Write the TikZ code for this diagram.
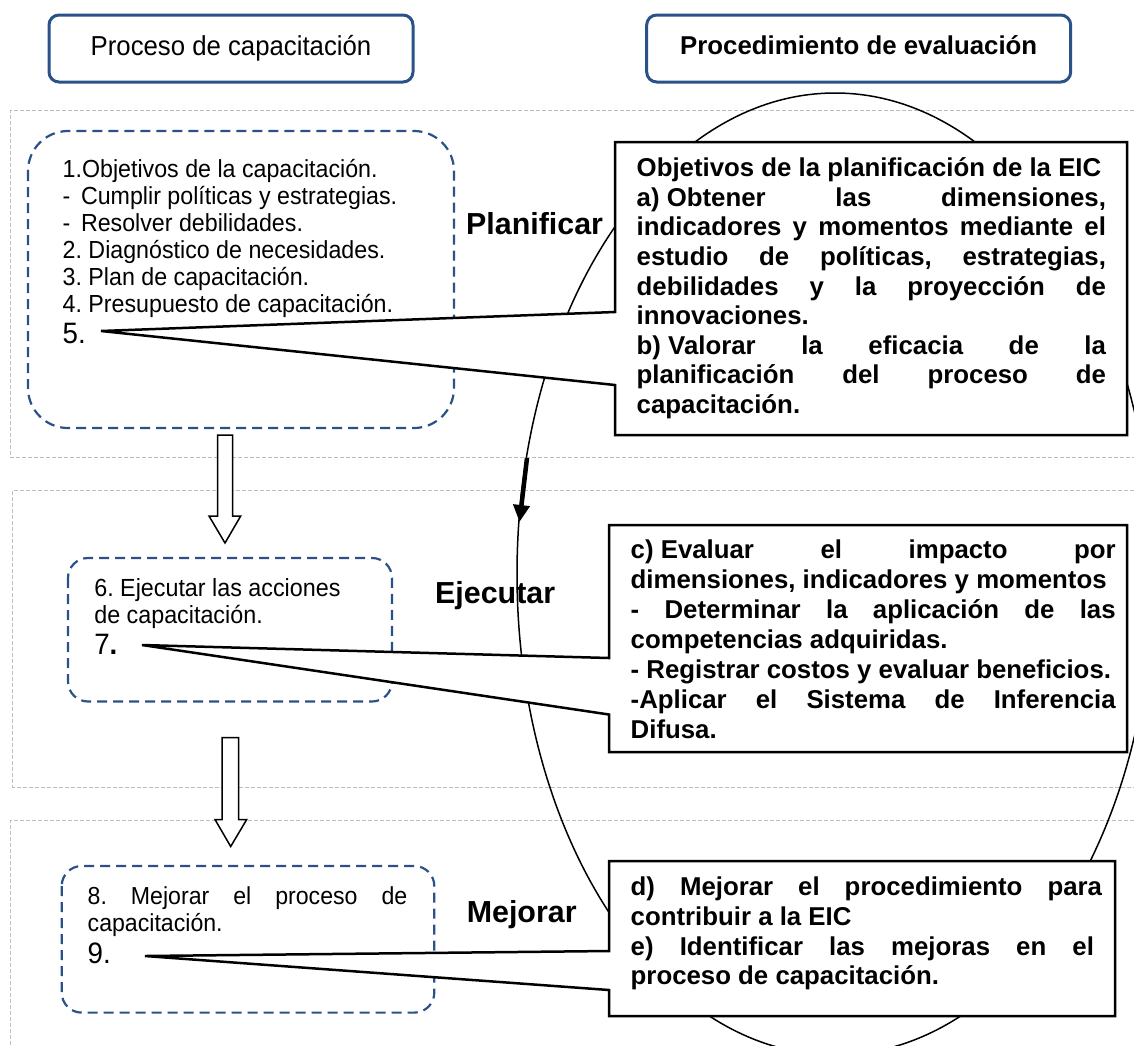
\documentclass[tikz,border=0pt]{standalone}
\usepackage{fontspec}
\setmainfont{Liberation Sans}
\newfontfamily\regfont[FakeStretch=0.94]{Liberation Sans}
\usetikzlibrary{arrows.meta}
\definecolor{hdrblue}{RGB}{42,82,136}
\definecolor{dashblue}{RGB}{42,82,136}
\definecolor{secgray}{RGB}{190,190,190}
\newcommand{\jline}[1]{\makebox[\linewidth][s]{#1}}
\newcommand{\fixsp}{\hspace{0.278em}}
\frenchspacing
\begin{document}
\begin{tikzpicture}[x=1pt,y=-1pt,
  section/.style={draw=secgray, line width=1pt, dash pattern=on 4pt off 2pt},
  hdrbox/.style={draw=hdrblue, line width=3pt, rounded corners=10pt},
  leftbox/.style={draw=dashblue, line width=2.2pt, dash pattern=on 10pt off 6pt},
  callout/.style={draw=black, fill=white, line width=2.5pt},
  hollow/.style={draw=black, fill=white, line width=1.5pt},
  txt/.style={anchor=base west, inner sep=0pt, outer sep=0pt},
  lbl/.style={anchor=base west, inner sep=0pt, font=\fontsize{30.4}{36}\selectfont\bfseries},
]
\useasboundingbox (0,0) rectangle (1134,1045);

% sections
\draw[section] (1140,110) -- (10.7,110) -- (10.7,457) -- (1140,457);
\draw[section] (1140,490.5) -- (12.7,490.5) -- (12.7,787) -- (1140,787);
\draw[section] (1140,820.5) -- (10.7,820.5) -- (10.7,1050);

% headers
\draw[hdrbox] (49,15) rectangle (413,82);
\node[txt, anchor=base] (h1) at (231,55) {\regfont\fontsize{27.4}{30}\selectfont Proceso de capacitación};
\draw[hdrbox] (646.7,15) rectangle (1070.7,82);
\node[txt, anchor=base] (h2) at (858.7,54.5) {\fontsize{25.8}{30}\selectfont\bfseries Procedimiento de evaluación};

% left dashed boxes
\draw[leftbox, rounded corners=40pt] (28,131) rectangle (454,428);
\draw[leftbox, rounded corners=20pt] (68,558) rectangle (392,701.5);
\draw[leftbox, rounded corners=20pt] (61.7,866) rectangle (434.3,1012.6);

% hollow arrows
\draw[hollow] (217.5,435) -- (217.5,516) -- (209,516) -- (225,543) -- (240.7,516) -- (232.7,516) -- (232.7,435) -- cycle;
\draw[hollow] (222,737.7) -- (222,819.5) -- (215,819.5) -- (230.7,846.5) -- (246.7,819.5) -- (238.7,819.5) -- (238.7,737.7) -- cycle;

% ellipse
\draw[line width=1.5pt] (835,574) ellipse [x radius=318pt, y radius=481pt];

% phase labels
\node[lbl] (plan) at (466,234) {Planificar};
\node[lbl] (ejec) at (435,603) {Ejecutar};
\node[lbl] (mejo) at (466.6,922.7) {Mejorar};

% callouts
\draw[callout] (615,142) -- (1127,142) -- (1127,435) -- (615,435) -- (615,385) -- (101,331) -- (615,312) -- cycle;
\draw[callout] (609,525) -- (1127,525) -- (1127,752) -- (609,752) -- (609,714.5) -- (142,645) -- (609,658) -- cycle;
\draw[callout] (609,861) -- (1115,861) -- (1115,1016) -- (609,1016) -- (609,990) -- (145,956) -- (609,951) -- cycle;

% callout texts
\node[txt] (ta) at (636.7,176.7) {\parbox[t]{469.3pt}{\fontsize{25.8}{29.6}\selectfont\bfseries
Objetivos de la planificación de la EIC\\
\jline{a)\fixsp Obtener las dimensiones,}\\
\jline{indicadores y momentos mediante el}\\
\jline{estudio de políticas, estrategias,}\\
\jline{debilidades y la proyección de}\\
innovaciones.\\
\jline{b)\fixsp Valorar la eficacia de la}\\
\jline{planificación del proceso de}\\
capacitación.}};

\node[txt] (tc) at (630.7,558) {\parbox[t]{485pt}{\fontsize{25.8}{30}\selectfont\bfseries
\jline{c)\fixsp Evaluar el impacto por}\\
dimensiones, indicadores y momentos\\
\jline{- Determinar la aplicación de las}\\
competencias adquiridas.\\
- Registrar costos y evaluar beneficios.\\
\jline{-Aplicar el Sistema de Inferencia}\\
Difusa.}};

\node[txt] (td) at (630.7,895.5) {\parbox[t]{471.3pt}{\fontsize{25.8}{29.8}\selectfont\bfseries
\jline{d) Mejorar el procedimiento para}\\
contribuir a la EIC\\
\makebox[463.3pt][s]{e) Identificar las mejoras en el}\\
proceso de capacitación.}};

% left texts
\node[txt] (t1) at (62.7,177) {\parbox[t]{380pt}{\regfont\fontsize{24.7}{27}\selectfont
1.Objetivos de la capacitación.\\
-\hspace{10.6pt}Cumplir políticas y estrategias.\\
-\hspace{10.6pt}Resolver debilidades.\\
2. Diagnóstico de necesidades.\\
3. Plan de capacitación.\\
4. Presupuesto de capacitación.}};
\node[txt] (n5) at (62.7,343) {\regfont\fontsize{29.5}{30}\selectfont 5.};

\node[txt] (t2) at (94.3,596) {\parbox[t]{280pt}{\regfont\fontsize{24.8}{27.4}\selectfont
6. Ejecutar las acciones\\
de capacitación.}};
\node[txt] (n7) at (94.3,654.8) {\regfont\fontsize{29.5}{30}\selectfont 7\textbf{.}};

\node[txt] (t3) at (87.7,904.5) {\parbox[t]{319.6pt}{\regfont\fontsize{24.6}{26.5}\selectfont
\jline{8. Mejorar el proceso de}\\
capacitación.}};
\node[txt] (n9) at (87.7,963) {\regfont\fontsize{29.5}{30}\selectfont 9.};

% thick arrow on ellipse
\draw[line width=4.5pt, -{Triangle[length=17pt,width=16pt]}] (527,458) -- (519.5,522);
\end{tikzpicture}
\end{document}
